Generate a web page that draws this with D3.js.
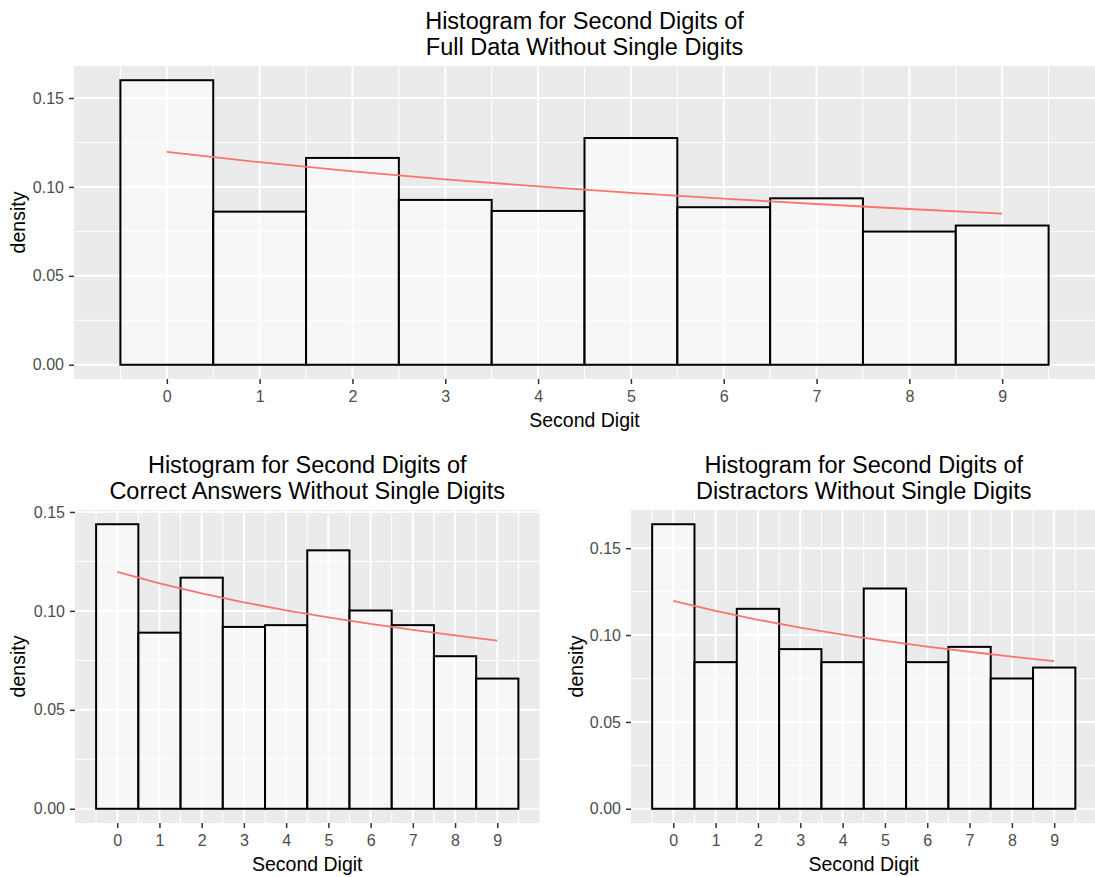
<!DOCTYPE html>
<html>
<head>
<meta charset="utf-8">
<script src="https://cdn.jsdelivr.net/npm/d3@7/dist/d3.min.js"></script>
<style>
  body { margin: 0; background: #fff; }
  svg { display: block; font-family: "Liberation Sans", Arial, sans-serif; }
</style>
</head>
<body>
<div id="chart"></div>
<script>
// second digits 0-9
const digits = [0, 1, 2, 3, 4, 5, 6, 7, 8, 9];

const fullDensity = [0.1600, 0.0861, 0.1163, 0.0927, 0.0865, 0.1275, 0.0886, 0.0936, 0.0749, 0.0783];
const correctDensity = [0.1438, 0.0890, 0.1168, 0.0919, 0.0928, 0.1306, 0.1002, 0.0928, 0.0771, 0.0658];
const distractorDensity = [0.1638, 0.0844, 0.1151, 0.0919, 0.0844, 0.1268, 0.0844, 0.0932, 0.0750, 0.0813];

// expected second digit law (red line)
const benford = [0.1197, 0.1139, 0.1088, 0.1043, 0.1003, 0.0967, 0.0934, 0.0904, 0.0876, 0.0850];

const yTicks = [0, 0.05, 0.10, 0.15];
const yMinor = [0.025, 0.075, 0.125, 0.175];
const xMinor = [-0.5, 0.5, 1.5, 2.5, 3.5, 4.5, 5.5, 6.5, 7.5, 8.5, 9.5];

const W = 1095, H = 877;

const svg = d3.select('#chart')
  .append('svg')
  .attr('width', W)
  .attr('height', H);

function drawPanel(opts) {
  const { values, title, left, right, top, bottom, labelX } = opts;
  const g = svg.append('g');

  const ymax = d3.max(values);
  const x = d3.scaleLinear().domain([-1, 10]).range([left, right]);
  const y = d3.scaleLinear().domain([-0.05 * ymax, 1.05 * ymax]).range([bottom, top]);

  // panel background
  g.append('rect')
    .attr('x', left).attr('y', top)
    .attr('width', right - left).attr('height', bottom - top)
    .attr('fill', '#EBEBEB');

  const clipId = 'clip' + Math.round(left) + Math.round(top);
  svg.append('clipPath').attr('id', clipId)
    .append('rect')
    .attr('x', left).attr('y', top)
    .attr('width', right - left).attr('height', bottom - top);

  const grid = g.append('g').attr('clip-path', `url(#${clipId})`);

  // minor grid
  grid.selectAll('.ymin').data(yMinor).enter().append('line')
    .attr('x1', left).attr('x2', right)
    .attr('y1', d => y(d)).attr('y2', d => y(d))
    .attr('stroke', '#fff').attr('stroke-width', 1);
  grid.selectAll('.xmin').data(xMinor).enter().append('line')
    .attr('y1', top).attr('y2', bottom)
    .attr('x1', d => x(d)).attr('x2', d => x(d))
    .attr('stroke', '#fff').attr('stroke-width', 1);

  // major grid
  grid.selectAll('.ymaj').data(yTicks).enter().append('line')
    .attr('x1', left).attr('x2', right)
    .attr('y1', d => y(d)).attr('y2', d => y(d))
    .attr('stroke', '#fff').attr('stroke-width', 2);
  grid.selectAll('.xmaj').data(digits).enter().append('line')
    .attr('y1', top).attr('y2', bottom)
    .attr('x1', d => x(d)).attr('x2', d => x(d))
    .attr('stroke', '#fff').attr('stroke-width', 2);

  // bars
  g.selectAll('.bar')
    .data(digits)
    .enter()
    .append('rect')
    .attr('class', 'bar')
    .attr('x', d => x(d - 0.5))
    .attr('y', d => y(values[d]))
    .attr('width', d => x(d + 0.5) - x(d - 0.5))
    .attr('height', d => y(0) - y(values[d]))
    .attr('fill', '#ffffff')
    .attr('fill-opacity', 0.6)
    .attr('stroke', '#000')
    .attr('stroke-width', 2);

  // expected line
  const line = d3.line()
    .x(d => x(d))
    .y(d => y(benford[d]));
  g.append('path')
    .datum(digits)
    .attr('d', line)
    .attr('fill', 'none')
    .attr('stroke', '#F8766D')
    .attr('stroke-width', 1.8);

  // axes
  const yAxis = d3.axisLeft(y)
    .tickValues(yTicks)
    .tickFormat(d3.format('.2f'))
    .tickSize(5)
    .tickPadding(5);
  const ya = g.append('g')
    .attr('transform', `translate(${left},0)`)
    .call(yAxis);
  ya.select('.domain').remove();
  ya.selectAll('line').attr('stroke', '#333').attr('stroke-width', 1.5);
  ya.selectAll('text')
    .attr('fill', '#4D4D4D')
    .style('font-size', '16px')
    .style('font-family', '"Liberation Sans", Arial, sans-serif');

  const xAxis = d3.axisBottom(x)
    .tickValues(digits)
    .tickFormat(d3.format('d'))
    .tickSize(5)
    .tickPadding(7);
  const xa = g.append('g')
    .attr('transform', `translate(0,${bottom})`)
    .call(xAxis);
  xa.select('.domain').remove();
  xa.selectAll('line').attr('stroke', '#333').attr('stroke-width', 1.5);
  xa.selectAll('text')
    .attr('fill', '#4D4D4D')
    .style('font-size', '16px')
    .style('font-family', '"Liberation Sans", Arial, sans-serif');

  // axis titles
  g.append('text')
    .attr('x', (left + right) / 2)
    .attr('y', bottom + 48)
    .attr('text-anchor', 'middle')
    .style('font-size', '19.5px')
    .style('fill', '#000')
    .text('Second Digit');

  g.append('text')
    .attr('transform', `translate(${labelX},${(top + bottom) / 2}) rotate(-90)`)
    .attr('text-anchor', 'middle')
    .style('font-size', '19.5px')
    .style('fill', '#000')
    .text('density');

  // title
  const t = g.append('text')
    .attr('text-anchor', 'middle')
    .style('font-size', '23.5px')
    .style('fill', '#000');
  title.forEach((s, i) => {
    t.append('tspan')
      .attr('x', (left + right) / 2)
      .attr('y', top - 37 + i * 26)
      .text(s);
  });
}

drawPanel({
  values: fullDensity,
  title: ['Histogram for Second Digits of', 'Full Data Without Single Digits'],
  left: 74, right: 1095, top: 66, bottom: 379, labelX: 25
});

drawPanel({
  values: correctDensity,
  title: ['Histogram for Second Digits of', 'Correct Answers Without Single Digits'],
  left: 75, right: 539.5, top: 510, bottom: 823, labelX: 25
});

drawPanel({
  values: distractorDensity,
  title: ['Histogram for Second Digits of', 'Distractors Without Single Digits'],
  left: 631, right: 1096.5, top: 510, bottom: 823, labelX: 583
});
</script>
</body>
</html>
